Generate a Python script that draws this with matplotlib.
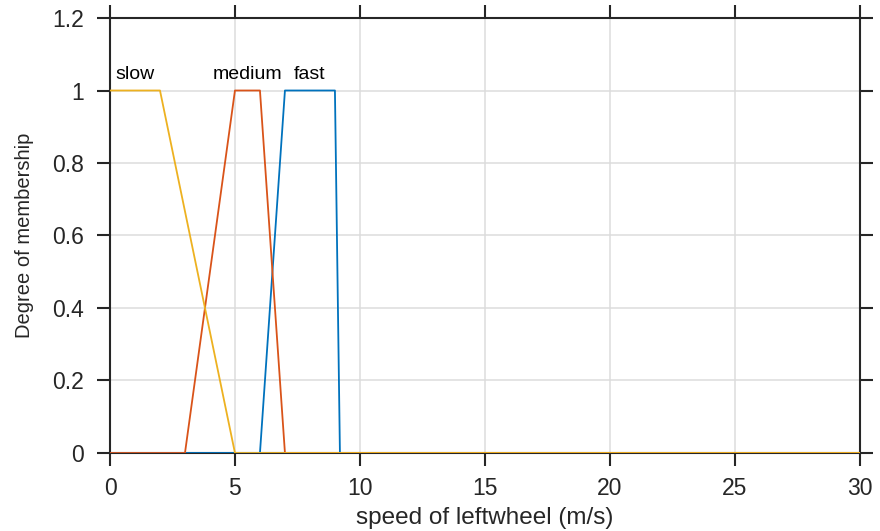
import matplotlib
matplotlib.use("Agg")
import matplotlib.pyplot as plt

# membership function parameters (trapezoids: a, b, c, d)
names = ["fast", "medium", "slow"]
params = [[6, 7, 9, 9.2], [3, 5, 6, 7], [0, 0, 2, 5]]
colors = ["#0072BD", "#D95319", "#EDB120"]
x_range = [0, 30]
x_ticks = [0, 5, 10, 15, 20, 25, 30]
y_ticks = [0, 0.2, 0.4, 0.6, 0.8, 1, 1.2]
y_tick_labels = ["0", "0.2", "0.4", "0.6", "0.8", "1", "1.2"]

plt.rcParams['font.family'] = ['Liberation Sans', 'DejaVu Sans']
txt = "#262626"

fig = plt.figure(figsize=(8.8, 5.31), dpi=100)
ax = fig.add_axes([0.125, 0.1469, 0.852, 0.8192])

for p, c in zip(params, colors):
    a, b, cc, d = p
    pts = [(x_range[0], 0), (a, 0), (b, 1), (cc, 1), (d, 0), (x_range[1], 0)]
    if a <= x_range[0] and b <= x_range[0]:
        pts = pts[2:]
        pts[0] = (x_range[0], 1)
    xs = [q[0] for q in pts]
    ys = [q[1] for q in pts]
    ax.plot(xs, ys, color=c, lw=1.3, zorder=3)

for n, p in zip(names, params):
    ax.text((p[1] + p[2]) / 2, 1.022, n, ha="center", va="bottom",
            fontsize=14, color="black")

ax.set_xlim(x_range)
ax.set_ylim(0, 1.2)
ax.set_xticks(x_ticks)
ax.set_yticks(y_ticks)
ax.set_yticklabels(y_tick_labels)
ax.grid(True, color="#DCDCDC", lw=1.1)
ax.set_axisbelow(True)

for s in ax.spines.values():
    s.set_color(txt)
    s.set_linewidth(1.5)
ax.tick_params(direction="out", length=9.5, width=1.5, color=txt,
               labelsize=16.5, labelcolor=txt,
               top=True, right=True)
ax.tick_params(axis="x", pad=8)
ax.tick_params(axis="y", pad=9)
ax.set_xlabel("speed of leftwheel (m/s)", fontsize=17.5, color=txt, labelpad=5)
ax.set_ylabel("Degree of membership", fontsize=14.5, color=txt, labelpad=13)

fig.savefig("out.png", dpi=100)
